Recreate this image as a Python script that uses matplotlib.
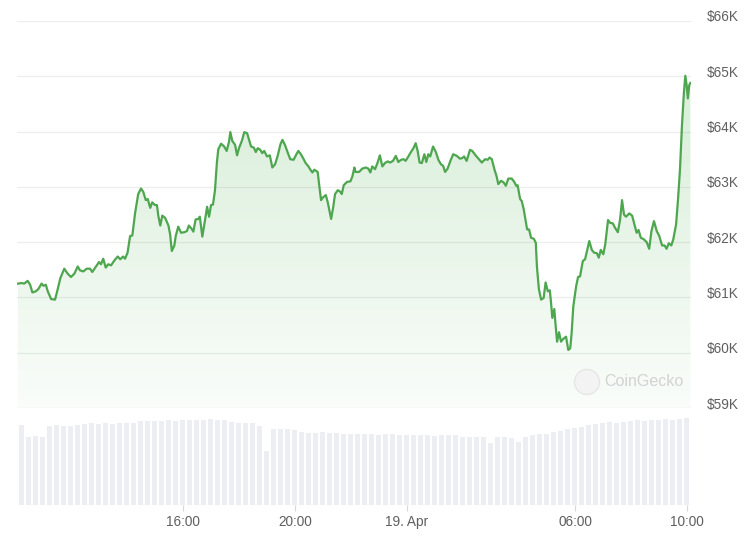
import numpy as np
import matplotlib
matplotlib.use("Agg")
import matplotlib.pyplot as plt
from matplotlib.patches import Ellipse
from matplotlib.transforms import ScaledTranslation

plt.rcParams['font.family'] = ['Liberation Sans', 'DejaVu Sans']

# ---- data: hours since 18 Apr 00:00, BTC price in USD ----
hours = [
    10.10, 10.24, 10.33, 10.45, 10.54, 10.62, 10.74, 10.83, 10.95, 11.02, 11.10, 11.17, 11.29, 11.43, 11.52,
    11.62, 11.76, 11.88, 12.00, 12.12, 12.24, 12.32, 12.44, 12.56, 12.68, 12.76, 12.88, 13.00, 13.07, 13.15,
    13.24, 13.33, 13.43, 13.55, 13.67, 13.76, 13.86, 13.93, 14.02, 14.11, 14.19, 14.29, 14.40, 14.50, 14.58,
    14.67, 14.74, 14.83, 14.90, 15.00, 15.07, 15.12, 15.19, 15.26, 15.36, 15.48, 15.54, 15.60, 15.69, 15.74,
    15.83, 15.93, 16.05, 16.14, 16.21, 16.31, 16.37, 16.45, 16.55, 16.60, 16.69, 16.79, 16.86, 16.93, 17.00,
    17.07, 17.14, 17.21, 17.26, 17.36, 17.47, 17.56, 17.64, 17.69, 17.76, 17.86, 17.93, 18.00, 18.10, 18.19,
    18.29, 18.43, 18.53, 18.60, 18.67, 18.76, 18.83, 18.90, 19.00, 19.10, 19.19, 19.29, 19.38, 19.48, 19.55,
    19.64, 19.74, 19.83, 19.95, 20.05, 20.12, 20.21, 20.31, 20.38, 20.48, 20.55, 20.62, 20.69, 20.81, 20.86,
    20.93, 21.00, 21.10, 21.17, 21.29, 21.36, 21.43, 21.53, 21.62, 21.67, 21.74, 21.86, 21.98, 22.05, 22.12,
    22.16, 22.29, 22.40, 22.53, 22.62, 22.69, 22.76, 22.86, 22.95, 23.03, 23.12, 23.21, 23.31, 23.40, 23.50,
    23.60, 23.69, 23.79, 23.88, 23.95, 24.05, 24.14, 24.23, 24.31, 24.38, 24.45, 24.53, 24.62, 24.69, 24.76,
    24.83, 24.93, 25.03, 25.12, 25.21, 25.29, 25.36, 25.45, 25.55, 25.65, 25.78, 25.89, 25.97, 26.04, 26.13,
    26.25, 26.33, 26.45, 26.57, 26.67, 26.79, 26.88, 26.95, 27.03, 27.12, 27.20, 27.26, 27.36, 27.45, 27.53,
    27.62, 27.74, 27.83, 27.90, 27.95, 28.04, 28.10, 28.17, 28.24, 28.29, 28.36, 28.43, 28.53, 28.60, 28.64,
    28.71, 28.79, 28.88, 28.95, 29.03, 29.10, 29.14, 29.19, 29.26, 29.31, 29.36, 29.43, 29.50, 29.58, 29.68,
    29.76, 29.83, 29.88, 29.94, 30.04, 30.11, 30.18, 30.28, 30.36, 30.44, 30.51, 30.60, 30.68, 30.78, 30.85,
    30.92, 31.01, 31.08, 31.18, 31.25, 31.35, 31.43, 31.53, 31.61, 31.68, 31.75, 31.82, 31.94, 32.04, 32.14,
    32.20, 32.27, 32.35, 32.46, 32.56, 32.65, 32.73, 32.82, 32.92, 33.01, 33.11, 33.20, 33.27, 33.35, 33.44,
    33.51, 33.61, 33.68, 33.75, 33.82, 33.89, 33.94, 33.99, 34.03, 34.08, 34.12,
]
price = [
    61250, 61260, 61250, 61300, 61230, 61090, 61110, 61150, 61250, 61210, 61230, 61110, 60970, 60960, 61140,
    61350, 61520, 61430, 61370, 61430, 61560, 61490, 61470, 61520, 61520, 61460, 61550, 61640, 61600, 61700,
    61540, 61600, 61580, 61670, 61740, 61690, 61740, 61700, 61810, 62110, 62120, 62530, 62870, 62970, 62910,
    62760, 62780, 62620, 62720, 62670, 62670, 62470, 62300, 62480, 62440, 62300, 62140, 61840, 61940, 62110,
    62280, 62170, 62180, 62200, 62300, 62240, 62190, 62410, 62420, 62460, 62100, 62410, 62640, 62460, 62670,
    62680, 62930, 63440, 63680, 63780, 63730, 63650, 63810, 63990, 63830, 63760, 63570, 63700, 63830, 63990,
    63970, 63730, 63710, 63630, 63700, 63670, 63610, 63650, 63550, 63570, 63350, 63410, 63560, 63770, 63850,
    63760, 63620, 63500, 63490, 63590, 63650, 63590, 63500, 63430, 63370, 63310, 63260, 63310, 63270, 63050,
    62760, 62810, 62850, 62720, 62420, 62620, 62870, 62940, 62910, 62870, 63030, 63090, 63100, 63190, 63350,
    63270, 63270, 63330, 63350, 63330, 63260, 63370, 63320, 63440, 63570, 63370, 63430, 63460, 63440, 63470,
    63560, 63450, 63490, 63500, 63470, 63550, 63630, 63700, 63790, 63650, 63440, 63430, 63590, 63450, 63590,
    63550, 63730, 63630, 63490, 63410, 63380, 63270, 63330, 63470, 63590, 63560, 63510, 63520, 63550, 63470,
    63670, 63650, 63570, 63500, 63440, 63500, 63490, 63530, 63500, 63320, 63190, 63050, 63110, 63080, 63020,
    63150, 63150, 63090, 63020, 63030, 62780, 62740, 62590, 62380, 62230, 62230, 62080, 62060, 61990, 61560,
    61150, 60960, 60990, 61270, 61110, 61130, 60930, 60630, 60790, 60480, 60200, 60370, 60200, 60250, 60290,
    60050, 60080, 60360, 60840, 61200, 61370, 61380, 61660, 61690, 61870, 62020, 61860, 61810, 61800, 61720,
    61860, 61780, 61960, 62400, 62350, 62340, 62260, 62180, 62410, 62760, 62500, 62460, 62520, 62480, 62290,
    62170, 62220, 62080, 62050, 62000, 61880, 62200, 62380, 62200, 62110, 61940, 61940, 61880, 61980, 61940,
    62050, 62320, 62780, 63320, 64110, 64710, 65010, 64830, 64600, 64840, 64880,
]

# 24h rolling volume (billions USD), one value per 15 minutes
volume = [
    40.2, 34.0, 34.3, 33.8, 39.5, 39.8, 39.3, 39.6, 40.0, 40.5, 40.8, 40.6, 40.9, 40.7, 41.0, 40.8,
    41.1, 41.8, 42.0, 42.2, 41.9, 42.3, 42.1, 42.5, 42.4, 42.7, 42.6, 42.8, 42.5, 42.6, 41.5, 41.0,
    40.8, 41.2, 39.5, 27.0, 38.0, 37.8, 38.2, 37.6, 36.4, 36.2, 36.0, 36.3, 35.9, 36.1, 35.6, 35.4,
    35.7, 35.3, 35.5, 35.2, 35.6, 35.4, 35.0, 34.8, 35.1, 34.9, 35.2, 34.7, 35.0, 34.8, 35.1, 34.2,
    33.9, 34.1, 34.0, 31.0, 33.8, 34.2, 33.7, 31.5, 34.0, 35.0, 35.4, 35.7, 36.3, 37.0, 38.2, 38.6,
    39.0, 40.2, 40.6, 41.0, 41.3, 41.0, 41.5, 42.0, 42.4, 42.2, 42.6, 42.3, 42.8, 42.5, 43.0, 43.6,
]
vol_start = 10.107
vol_step = 0.25
vol_hours = vol_start + vol_step * (np.arange(len(volume)) + 0.5)

y_ticks = [59000, 60000, 61000, 62000, 63000, 64000, 65000, 66000]
y_labels = ["$59K", "$60K", "$61K", "$62K", "$63K", "$64K", "$65K", "$66K"]
x_ticks = [16, 20, 24, 30, 34]
x_labels = ["16:00", "20:00", "19. Apr", "06:00", "10:00"]

# ---- figure ----
W, H = 750, 542
fig = plt.figure(figsize=(W / 100, H / 100), dpi=100)
fig.patch.set_facecolor("white")

left_px, right_px = 17, 690.5
xlim = (10.071, 34.125)

ax = fig.add_axes([left_px / W, (H - 408) / H, (right_px - left_px) / W, (408 - 21) / H])
axv = fig.add_axes([left_px / W, (H - 505) / H, (right_px - left_px) / W, (505 - 408) / H], sharex=ax)

line_color = "#4ea64f"
text_color = "#5f5f5f"

# price gridlines
ax.set_ylim(59000, 66000)
ax.set_xlim(*xlim)
for s in ax.spines.values():
    s.set_visible(False)
ax.set_yticks(y_ticks)
ax.set_yticklabels(y_labels)
ax.yaxis.tick_right()
ax.tick_params(axis="y", length=0, pad=12, labelsize=9.8, labelcolor=text_color)
ax.tick_params(axis="x", bottom=False, labelbottom=False)
ax.grid(axis="y", color="#ededed", linewidth=0.9)
ax.set_axisbelow(True)
for lbl in ax.get_yticklabels():
    lbl.set_transform(lbl.get_transform() + ScaledTranslation(0, 5 / 100, fig.dpi_scale_trans))

# gradient fill under the line
poly = ax.fill_between(hours, price, 59000, facecolor="none", edgecolor="none")
grad = np.zeros((256, 1, 4))
grad[:, 0, 0] = 0.30
grad[:, 0, 1] = 0.69
grad[:, 0, 2] = 0.31
grad[:, 0, 3] = np.linspace(0.03, 0.25, 256)
im = ax.imshow(grad, extent=[xlim[0], xlim[1], 59000, 66000], origin="lower",
               aspect="auto", interpolation="bilinear", zorder=1)
im.set_clip_path(poly.get_paths()[0], transform=ax.transData)
ax.set_xlim(*xlim)
ax.set_ylim(59000, 66000)

ax.plot(hours, price, color=line_color, linewidth=1.6, zorder=3, solid_joinstyle="round")

# volume bars
axv.bar(vol_hours, volume, width=vol_step * 0.78, color="#eceef3", linewidth=0, zorder=2)
axv.set_ylim(0, 48.5)
axv.set_xlim(*xlim)
for s in axv.spines.values():
    s.set_visible(False)
axv.set_yticks([])
axv.set_xticks(x_ticks)
axv.set_xticklabels(x_labels)
axv.tick_params(axis="x", length=4, width=0.8, color="#d8d8e0", pad=3,
                labelsize=9.8, labelcolor=text_color)

# CoinGecko watermark
fig.add_artist(Ellipse((587 / W, 1 - 382 / H), 25 / W, 25 / H, transform=fig.transFigure,
                       facecolor="#f3f3f3", edgecolor="#e6e6e6", linewidth=1.0, zorder=5))
fig.text(604 / W, 1 - 382 / H, "CoinGecko", color="#d2d2d2", fontsize=11.5,
         ha="left", va="center", zorder=6)

fig.savefig("out.png", dpi=100, facecolor="white")
